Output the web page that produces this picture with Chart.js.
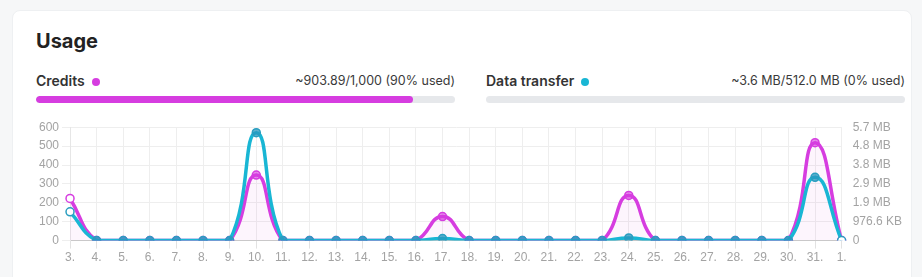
<!DOCTYPE html>
<html>
<head>
<meta charset="utf-8">
<script src="https://cdn.jsdelivr.net/npm/chart.js@4/dist/chart.umd.min.js"></script>
<style>
  html, body { margin: 0; padding: 0; }
  body { width: 922px; height: 277px; background: #f6f7f8; overflow: hidden; font-family: Inter, "Noto Sans", sans-serif; position: relative; }
  .card { position: absolute; left: 12px; top: 10px; width: 900px; height: 290px; background: #fff; border-radius: 8px; border: 1px solid #eef0f2; box-sizing: border-box; }
  .title { position: absolute; left: 36px; top: 27px; font-size: 20px; font-weight: 700; color: #222; line-height: 28px; }
  .meter { position: absolute; top: 71px; width: 419px; }
  .meter .head { position: relative; height: 20px; font-size: 14px; line-height: 20px; color: #333; }
  .meter .label { font-weight: 600; }
  .meter .dot { display: inline-block; width: 8px; height: 8px; border-radius: 50%; margin-left: 7px; vertical-align: 0px; }
  .meter .right { position: absolute; right: 0; top: 0; font-size: 12.5px; color: #3a3a3a; }
  .meter .track { position: absolute; top: 25px; left: 0; width: 100%; height: 7px; border-radius: 4px; background: #e6e8eb; overflow: hidden; }
  .meter .fill { height: 100%; border-radius: 4px; }
  .chartbox { position: absolute; left: 36px; top: 117px; width: 869px; height: 150px; }
</style>
</head>
<body>
<div class="card"></div>
<div class="title">Usage</div>
<div class="meter" style="left:36px;">
  <div class="head"><span class="label">Credits</span><span class="dot" style="background:#d63de0"></span><span class="right">~903.89/1,000 (90% used)</span></div>
  <div class="track"><div class="fill" style="width:90%;background:#d63de0"></div></div>
</div>
<div class="meter" style="left:486px;">
  <div class="head"><span class="label">Data transfer</span><span class="dot" style="background:#19b6d4"></span><span class="right">~3.6 MB/512.0 MB (0% used)</span></div>
  <div class="track"></div>
</div>
<div class="chartbox"><canvas id="c"></canvas></div>
<script>
const days = ['3.','4.','5.','6.','7.','8.','9.','10.','11.','12.','13.','14.','15.','16.','17.','18.','19.','20.','21.','22.','23.','24.','25.','26.','27.','28.','29.','30.','31.','1.'];
const credits = [223,0,0,0,0,0,0,347,0,0,0,0,0,0,127,0,0,0,0,0,0,239,0,0,0,0,0,0,518,0];
const transferBytes = [1520000,0,0,0,0,0,0,5710000,0,0,0,0,0,0,110000,0,0,0,0,0,0,140000,0,0,0,0,0,0,3350000,0];
const leftTicks = ['0','100','200','300','400','500','600'];
const rightTicks = ['0','976.6 KB','1.9 MB','2.9 MB','3.8 MB','4.8 MB','5.7 MB'];

const magenta = '#d63de0';
const cyan = '#19b6d4';
function pointBg(col, n) {
  return Array.from({length: n}, (_, i) => (i === 0 || i === n - 1) ? '#ffffff' : col);
}

new Chart(document.getElementById('c'), {
  type: 'line',
  data: {
    labels: days,
    datasets: [
      {
        label: 'Credits',
        data: credits,
        yAxisID: 'y',
        borderColor: magenta,
        backgroundColor: 'rgba(214,61,224,0.05)',
        fill: 'origin',
        borderWidth: 3.5,
        tension: 0.5,
        pointRadius: 4,
        pointBorderWidth: 1.5,
        pointBorderColor: magenta,
        pointBackgroundColor: pointBg('rgba(214,61,224,0.6)', credits.length),
        order: 2
      },
      {
        label: 'Data transfer',
        data: transferBytes,
        yAxisID: 'y1',
        borderColor: cyan,
        backgroundColor: 'rgba(25,182,212,0.0)',
        fill: false,
        borderWidth: 3.5,
        tension: 0.5,
        pointRadius: 4,
        pointBorderWidth: 1.5,
        pointBorderColor: '#2a9ec0',
        pointBackgroundColor: pointBg('rgba(40,150,190,0.75)', transferBytes.length),
        order: 1
      }
    ]
  },
  options: {
    responsive: true,
    maintainAspectRatio: false,
    animation: false,
    plugins: { legend: { display: false }, tooltip: { enabled: false } },
    layout: { padding: 0 },
    scales: {
      x: {
        grid: { color: '#eeeeee', tickLength: 8, tickColor: '#e2e2e2' },
        border: { color: '#c9c9c9' },
        ticks: { color: '#a3a3a3', font: { size: 12 }, maxRotation: 0, autoSkip: false, padding: 2 }
      },
      y: {
        position: 'left',
        min: 0, max: 600,
        grid: { color: '#eeeeee', tickLength: 8 },
        border: { color: '#e6e6e6' },
        ticks: { stepSize: 100, color: '#a3a3a3', font: { size: 12 }, padding: 3,
                 callback: (v, i) => leftTicks[i] }
      },
      y1: {
        position: 'right',
        min: 0, max: 6000000,
        grid: { display: false, drawOnChartArea: false, tickLength: 8 },
        border: { display: false },
        ticks: { stepSize: 1000000, color: '#a3a3a3', font: { size: 12 }, padding: 3,
                 callback: (v, i) => rightTicks[i] }
      }
    }
  }
});
</script>
</body>
</html>
